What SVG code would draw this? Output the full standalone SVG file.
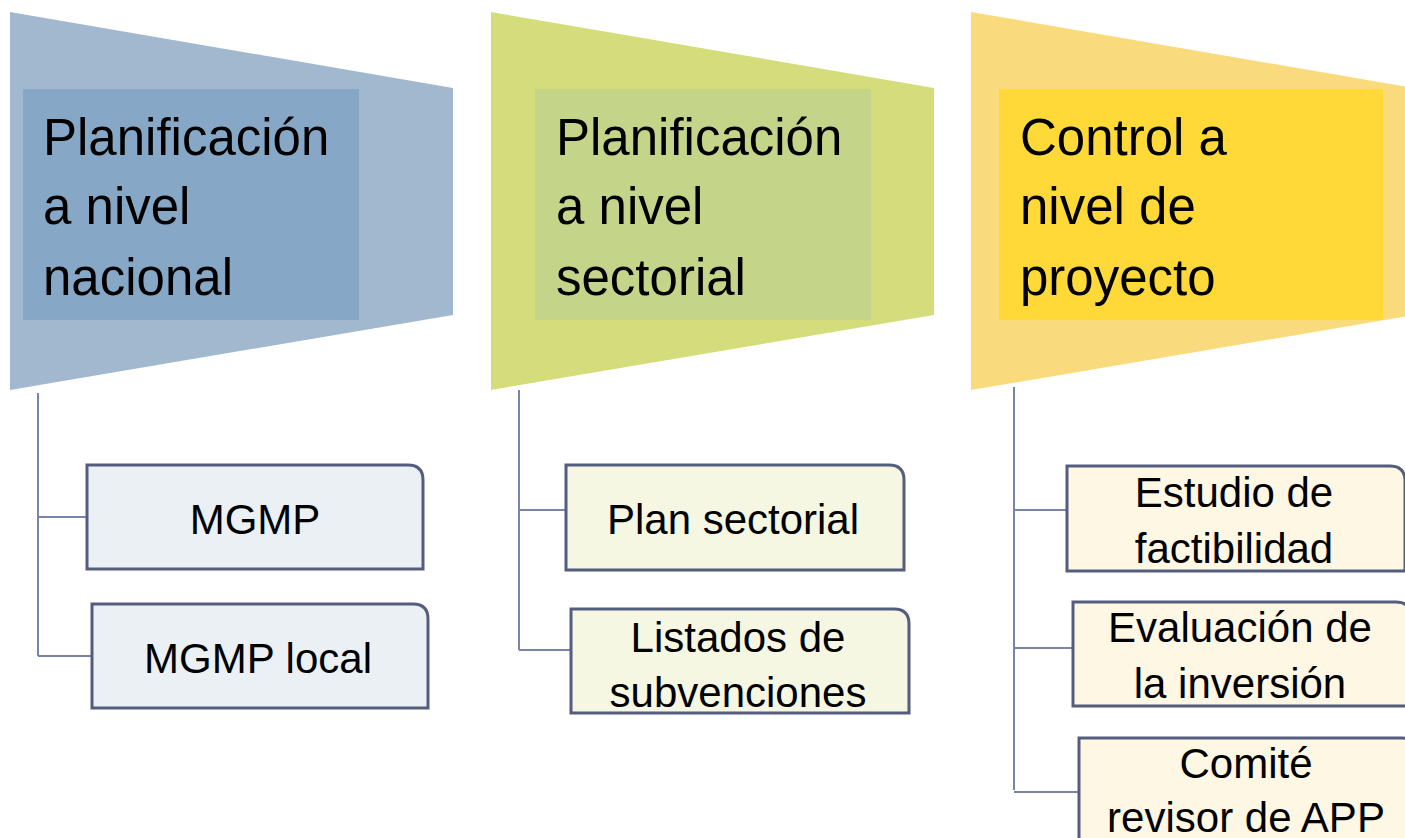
<svg xmlns="http://www.w3.org/2000/svg" width="1405" height="838" viewBox="0 0 1405 838">
<style>
.head{font-family:"Gill Sans MT","Gill Sans","Liberation Sans",Arial,sans-serif;font-size:51px;fill:#000}
.lbl{font-family:"Gill Sans MT","Gill Sans","Liberation Sans",Arial,sans-serif;font-size:42px;fill:#000;text-anchor:middle}
.conn{stroke:#7a84a8;stroke-width:2;fill:none}
.box{stroke:#545d7e;stroke-width:3}
</style>
<rect width="1405" height="838" fill="#ffffff"/>
<g id="connectors">
<path class="conn" d="M38 393 V656 M38 517 H87 M38 656 H92"/>
<path class="conn" d="M519 390 V650 M519 510 H566 M519 650 H571"/>
<path class="conn" d="M1014 387 V790 M1014 510 H1067 M1014 648 H1073 M1014 792 H1079"/>
</g>
<g id="level-nacional">
<polygon points="10,12 453,88 453,315 10,390" fill="#a2b8cf"/>
<rect x="23" y="89" width="336" height="231" fill="#87a7c6"/>
<text class="head" x="43" y="155">Planificación</text>
<text class="head" x="43" y="224">a nivel</text>
<text class="head" x="43" y="295">nacional</text>
</g>
<g id="level-sectorial">
<polygon points="491,12 934,88 934,315 491,390" fill="#d4dc7c"/>
<rect x="535" y="89" width="336" height="231" fill="#c4d489"/>
<text class="head" x="556" y="155">Planificación</text>
<text class="head" x="556" y="224">a nivel</text>
<text class="head" x="556" y="295">sectorial</text>
</g>
<g id="level-proyecto">
<polygon points="971,12 1414,88 1414,315 971,390" fill="#f9da7d"/>
<rect x="999" y="89" width="384" height="231" fill="#ffd937"/>
<text class="head" x="1020" y="155">Control a</text>
<text class="head" x="1020" y="224">nivel de</text>
<text class="head" x="1020" y="295">proyecto</text>
</g>
<g id="mgmp">
<path class="box" d="M87 465 H408 Q423 465 423 480 V569 H87 Z" fill="#ebf0f4"/>
<text class="lbl" x="255" y="534">MGMP</text>
</g>
<g id="mgmp-local">
<path class="box" d="M92 604 H413 Q428 604 428 619 V708 H92 Z" fill="#ebf0f4"/>
<text class="lbl" x="258" y="673">MGMP local</text>
</g>
<g id="plan-sectorial">
<path class="box" d="M566 465 H889 Q904 465 904 480 V570 H566 Z" fill="#f5f7e2"/>
<text class="lbl" x="733" y="534">Plan sectorial</text>
</g>
<g id="listados">
<path class="box" d="M571 609 H894 Q909 609 909 624 V713 H571 Z" fill="#f5f7e2"/>
<text class="lbl" x="738" y="652">Listados de</text>
<text class="lbl" x="738" y="707">subvenciones</text>
</g>
<g id="estudio">
<path class="box" d="M1067 466 H1390 Q1405 466 1405 481 V571 H1067 Z" fill="#fef7e4"/>
<text class="lbl" x="1234" y="507">Estudio de</text>
<text class="lbl" x="1234" y="563">factibilidad</text>
</g>
<g id="evaluacion">
<path class="box" d="M1073 602 H1396 Q1411 602 1411 617 V706 H1073 Z" fill="#fef7e4"/>
<text class="lbl" x="1240" y="642">Evaluación de</text>
<text class="lbl" x="1240" y="698">la inversión</text>
</g>
<g id="comite">
<path class="box" d="M1079 738 H1402 Q1417 738 1417 753 V860 H1079 Z" fill="#fef7e4"/>
<text class="lbl" x="1246" y="778">Comité</text>
<text class="lbl" x="1246" y="832">revisor de APP</text>
</g>
</svg>
